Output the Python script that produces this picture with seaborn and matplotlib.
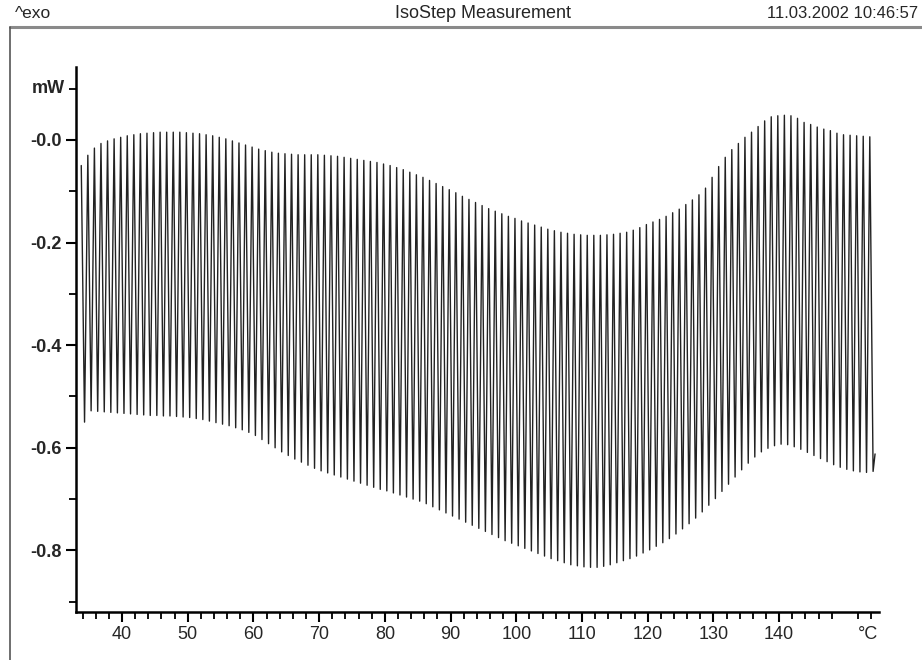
import pandas as pd
import seaborn as sns
import matplotlib.pyplot as plt
from matplotlib.lines import Line2D
from matplotlib.ticker import FixedLocator

# IsoStep cycles: step temperature (degC), peak and trough heat flow (mW) per cycle
cycle_T = [34, 35, 36, 37, 38, 39, 40, 41, 42, 43,
           44, 45, 46, 47, 48, 49, 50, 51, 52, 53,
           54, 55, 56, 57, 58, 59, 60, 61, 62, 63,
           64, 65, 66, 67, 68, 69, 70, 71, 72, 73,
           74, 75, 76, 77, 78, 79, 80, 81, 82, 83,
           84, 85, 86, 87, 88, 89, 90, 91, 92, 93,
           94, 95, 96, 97, 98, 99, 100, 101, 102, 103,
           104, 105, 106, 107, 108, 109, 110, 111, 112, 113,
           114, 115, 116, 117, 118, 119, 120, 121, 122, 123,
           124, 125, 126, 127, 128, 129, 130, 131, 132, 133,
           134, 135, 136, 137, 138, 139, 140, 141, 142, 143,
           144, 145, 146, 147, 148, 149, 150, 151, 152, 153,
           154]

peak_mW = [-0.050, -0.030, -0.016, -0.007, -0.002, 0.002, 0.005, 0.008, 0.010, 0.012,
           0.013, 0.014, 0.015, 0.015, 0.015, 0.015, 0.014, 0.013, 0.012, 0.010,
           0.008, 0.005, 0.002, -0.002, -0.006, -0.010, -0.014, -0.018, -0.021, -0.024,
           -0.026, -0.027, -0.028, -0.029, -0.029, -0.029, -0.029, -0.030, -0.031, -0.032,
           -0.034, -0.036, -0.038, -0.040, -0.042, -0.044, -0.047, -0.050, -0.054, -0.058,
           -0.063, -0.068, -0.073, -0.079, -0.085, -0.091, -0.097, -0.103, -0.110, -0.116,
           -0.122, -0.128, -0.134, -0.139, -0.144, -0.149, -0.153, -0.158, -0.162, -0.166,
           -0.170, -0.174, -0.177, -0.180, -0.182, -0.184, -0.185, -0.186, -0.186, -0.186,
           -0.185, -0.184, -0.182, -0.180, -0.176, -0.171, -0.165, -0.160, -0.155, -0.149,
           -0.142, -0.135, -0.126, -0.117, -0.107, -0.094, -0.073, -0.052, -0.034, -0.019,
           -0.007, 0.005, 0.015, 0.026, 0.037, 0.045, 0.047, 0.048, 0.047, 0.042,
           0.034, 0.030, 0.025, 0.021, 0.018, 0.013, 0.010, 0.009, 0.008, 0.007,
           0.006]

trough_mW = [-0.550, -0.528, -0.529, -0.530, -0.531, -0.532, -0.533, -0.534, -0.535, -0.536,
             -0.537, -0.537, -0.538, -0.538, -0.539, -0.540, -0.541, -0.543, -0.545, -0.548,
             -0.551, -0.554, -0.557, -0.561, -0.565, -0.570, -0.576, -0.584, -0.592, -0.600,
             -0.608, -0.615, -0.622, -0.628, -0.634, -0.640, -0.645, -0.649, -0.653, -0.657,
             -0.661, -0.665, -0.669, -0.673, -0.677, -0.681, -0.684, -0.688, -0.692, -0.696,
             -0.700, -0.704, -0.709, -0.715, -0.721, -0.727, -0.733, -0.739, -0.745, -0.751,
             -0.757, -0.763, -0.769, -0.775, -0.781, -0.786, -0.791, -0.796, -0.801, -0.806,
             -0.811, -0.816, -0.820, -0.824, -0.828, -0.830, -0.832, -0.833, -0.833, -0.831,
             -0.828, -0.824, -0.820, -0.816, -0.811, -0.805, -0.799, -0.792, -0.785, -0.777,
             -0.768, -0.758, -0.748, -0.737, -0.725, -0.712, -0.699, -0.685, -0.671, -0.657,
             -0.643, -0.630, -0.618, -0.608, -0.601, -0.596, -0.593, -0.594, -0.598, -0.603,
             -0.609, -0.615, -0.621, -0.627, -0.633, -0.638, -0.642, -0.645, -0.647, -0.648,
             -0.646]

end_T, end_mW = 154.6, -0.612

x_ticks = [40, 50, 60, 70, 80, 90, 100, 110, 120, 130, 140]
y_ticks = [0.0, -0.2, -0.4, -0.6, -0.8]
y_labels = ['-0.0', '-0.2', '-0.4', '-0.6', '-0.8']

sns.set_style('ticks')
plt.rcParams['font.family'] = ['Liberation Sans', 'DejaVu Sans']

# zigzag trace: peak just before the step temperature, trough just after
T, mW = [], []
for t, p, q in zip(cycle_T, peak_mW, trough_mW):
    T += [t - 0.2, t + 0.3]
    mW += [p, q]
T.append(end_T)
mW.append(end_mW)
df = pd.DataFrame({'T': T, 'mW': mW})

fig = plt.figure(figsize=(9.22, 6.60), dpi=100)
ax = fig.add_axes([76 / 922, 48 / 660, 803 / 922, 545 / 660])
sns.lineplot(data=df, x='T', y='mW', sort=False, estimator=None,
             color='#222222', lw=1.0, ax=ax)

ax.set_xlim(33.0, 155.2)
ax.set_ylim(-0.92, 0.142)
ax.set_xlabel('')
ax.set_ylabel('')
sns.despine(ax=ax)
for s in ['left', 'bottom']:
    ax.spines[s].set_linewidth(1.8)
    ax.spines[s].set_color('black')

ax.set_xticks(x_ticks)
ax.set_xticklabels([str(v) for v in x_ticks], fontsize=13, fontweight='medium')
ax.xaxis.set_minor_locator(FixedLocator([v for v in range(34, 155, 2) if v % 10]))
ax.set_yticks(y_ticks)
ax.set_yticklabels(y_labels, fontsize=13, fontweight='bold')
ax.yaxis.set_minor_locator(FixedLocator([0.1, -0.1, -0.3, -0.5, -0.7, -0.9]))
ax.tick_params(axis='both', which='major', length=7, width=1.5, color='black', pad=3)
ax.tick_params(axis='both', which='minor', length=5, width=1.3, color='black')

ax.annotate('mW', xy=(0, 0.1), xycoords=('axes fraction', 'data'), xytext=(-8, 0),
            textcoords='offset points', ha='right', va='center', fontsize=13, fontweight='bold')
ax.annotate('°C', xy=(153.6, 0), xycoords=('data', 'axes fraction'), xytext=(0, -10),
            textcoords='offset points', ha='center', va='top', fontsize=13)

# page header and frame
fig.text(15 / 922, 1 - 13 / 660, '^exo', ha='left', va='center', fontsize=12.5)
fig.text(483 / 922, 1 - 13 / 660, 'IsoStep Measurement', ha='center', va='center', fontsize=13)
fig.text(918 / 922, 1 - 13 / 660, '11.03.2002 10:46:57', ha='right', va='center', fontsize=12)
fig.add_artist(Line2D([10 / 922, 1], [1 - 27 / 660, 1 - 27 / 660], color='#8a8a8a', lw=2.2))
fig.add_artist(Line2D([10 / 922, 10 / 922], [0, 1 - 27 / 660], color='#555555', lw=1.2))

fig.savefig('out.png', dpi=100)
